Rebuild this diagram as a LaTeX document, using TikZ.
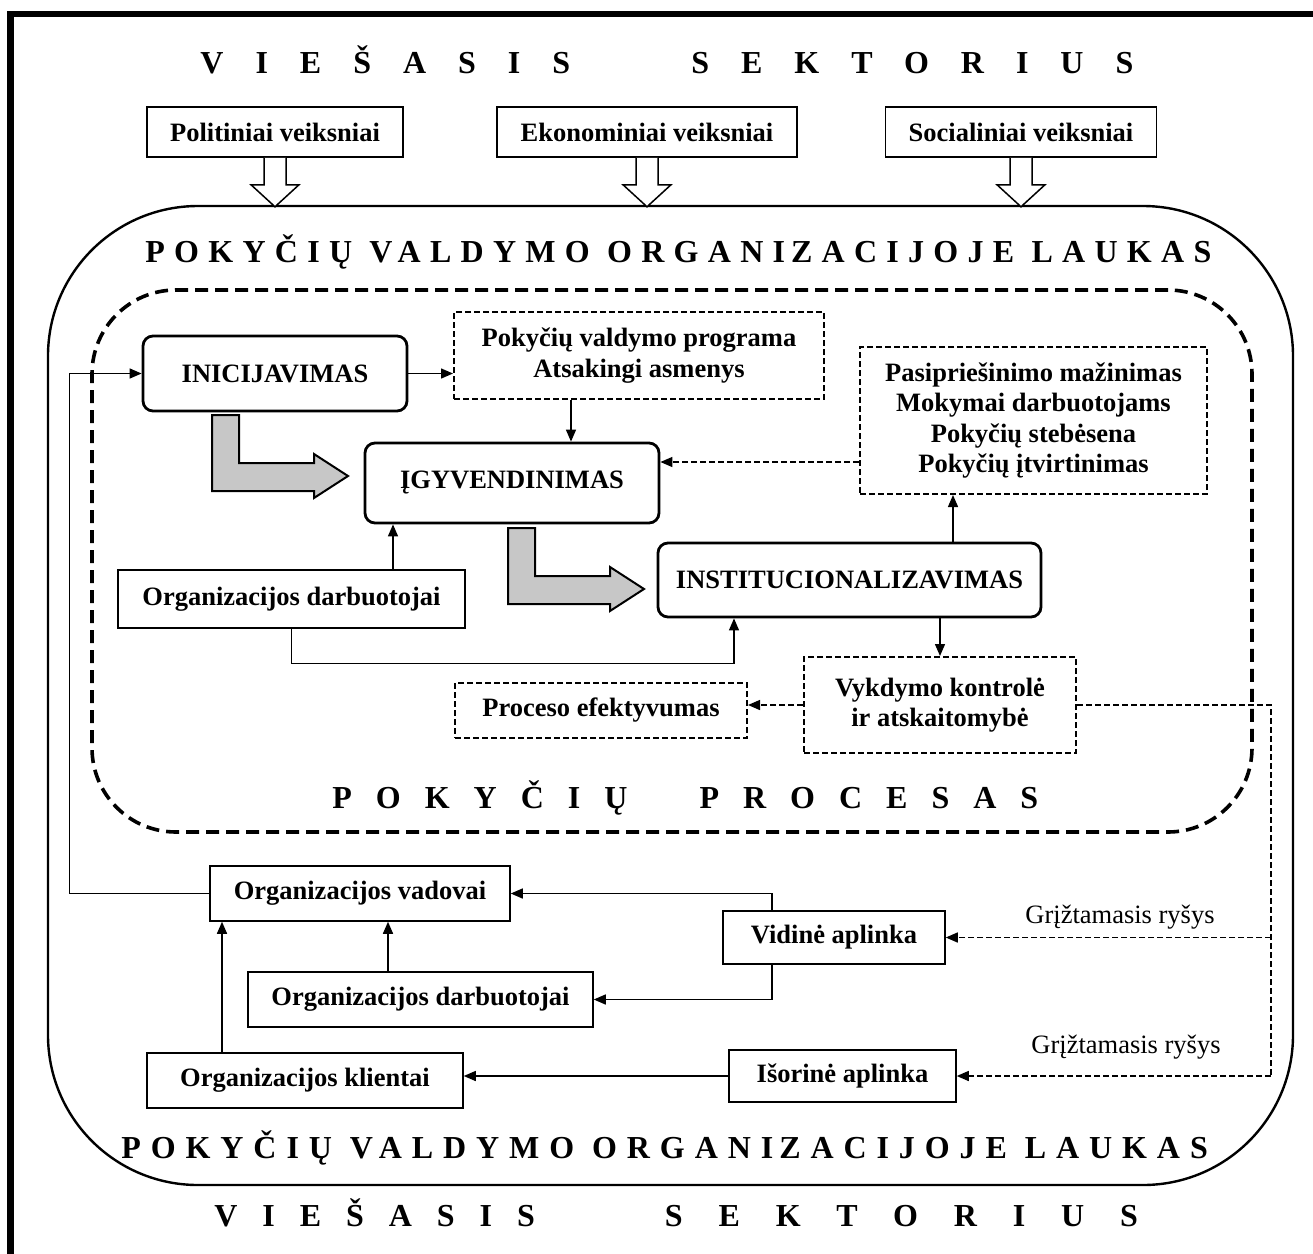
\documentclass[tikz,border=0pt]{standalone}
\usepackage{fontspec}
\setmainfont{Liberation Serif}
\usetikzlibrary{arrows.meta,calc}

\newcommand{\spaced}[2]{{\addfontfeature{LetterSpace=#1}#2}}
\newcommand{\lbend}[1]{\draw[grayarrow] (#1) -- ++(27,0) -- ++(0,48) -- ++(75,0) -- ++(0,-9) -- ++(34,22) -- ++(-34,22) -- ++(0,-7) -- ++(-102,0) -- cycle;}
\newcommand{\hollowdown}[1]{\draw[blockarrow] ($(#1.south)+(-11,0)$) -- ++(0,27) -- ++(-13,0) -- ++(24,22) -- ++(24,-22) -- ++(-13,0) -- ++(0,-27);}

\begin{document}
\begin{tikzpicture}[x=0.5pt, y=-0.5pt,
    boxfont/.style={font=\fontsize{13.25pt}{15.3pt}\selectfont\bfseries},
    plainbox/.style={boxfont, draw, line width=0.75pt, align=center, inner sep=0pt},
    stagebox/.style={plainbox, line width=1.4pt, rounded corners=5pt},
    dashbox/.style={plainbox, line width=1pt, dash pattern=on 3pt off 1.5pt},
    link/.style={line width=0.7pt, -{Triangle[length=6pt,width=5pt]}},
    dashlink/.style={link, dash pattern=on 3pt off 1.5pt},
    fbline/.style={line width=0.7pt, dash pattern=on 3pt off 1.5pt},
    bigtitle/.style={font=\fontsize{16pt}{18pt}\selectfont\bfseries, anchor=base west, inner sep=0pt},
    fblabel/.style={font=\fontsize{13.25pt}{15pt}\selectfont, inner sep=0pt},
    blockarrow/.style={line width=0.75pt, fill=white},
    grayarrow/.style={line width=1pt, fill=black!22}
]
\useasboundingbox (0,0) rectangle (1313,1254);
\draw[line width=3.2pt] (10.5,1290) -- (10.5,14) -- (1340,14);

% public sector and its factors
\node[bigtitle] (sectortop) at (200,73) {\spaced{100}{VIEŠASIS}\hspace{60.5pt}\spaced{100}{SEKTORIUS}};
\node[plainbox, minimum width=128pt, minimum height=25pt] (polit) at (275,132) {Politiniai veiksniai};
\node[plainbox, minimum width=150pt, minimum height=25pt] (econ) at (647,132) {Ekonominiai veiksniai};
\node[plainbox, minimum width=135.5pt, minimum height=25pt] (soc) at (1021,132) {Socialiniai veiksniai};

% field and process frames
\node[draw, line width=1.2pt, rounded corners=75pt, minimum width=622.5pt, minimum height=489.5pt] (field) at (670.5,695.5) {};
\node[draw, line width=1.8pt, dash pattern=on 6.5pt off 3.5pt, rounded corners=42pt, minimum width=580pt, minimum height=271pt] (process) at (672,561) {};
\hollowdown{polit}
\hollowdown{econ}
\hollowdown{soc}
\node[bigtitle] (fieldtop) at (145,262) {\spaced{29}{POKYČIŲ VALDYMO ORGANI\hspace{3pt}ZACIJOJE LAUKAS}};
\node[bigtitle] (proctitle) at (332,808) {\spaced{75}{POKYČIŲ}\hspace{36pt}\spaced{75}{PROCESAS}};
\node[bigtitle] (fieldbot) at (121,1158) {\spaced{31}{POKYČIŲ VALDYMO ORGANI\hspace{3pt}ZACIJOJE LAUKAS}};
\node[bigtitle] (sectorbot) at (214,1226) {\spaced{78}{VIEŠASIS}\hspace{65pt}\spaced{112}{SEKTORIUS}};

% process stages
\node[stagebox, minimum width=132pt, minimum height=37.5pt] (init) at (275,373.5) {INICIJAVIMAS};
\node[dashbox, minimum width=185pt, minimum height=43.5pt] (prog) at (639,355.5) {Pokyčių valdymo programa\\Atsakingi asmenys};
\node[stagebox, minimum width=147pt, minimum height=40pt] (impl) at (512,483) {ĮGYVENDINIMAS};
\node[dashbox, minimum width=173.5pt, minimum height=73.5pt] (measures) at (1033.5,420.5) {Pasipriešinimo mažinimas\\Mokymai darbuotojams\\Pokyčių stebėsena\\Pokyčių įtvirtinimas};
\node[plainbox, minimum width=173.5pt, minimum height=29pt] (staff1) at (291.5,599) {Organizacijos darbuotojai};
\node[stagebox, minimum width=191.5pt, minimum height=37pt] (inst) at (849.5,580) {INSTITUCIONALIZAVIMAS};
\node[dashbox, minimum width=136pt, minimum height=48pt] (control) at (940,705) {Vykdymo kontrolė\\ir atskaitomybė};
\node[dashbox, minimum width=146pt, minimum height=27.5pt] (effic) at (601,710.5) {Proceso efektyvumas};
\lbend{212,415}
\lbend{508,528}

% environment
\node[plainbox, minimum width=150pt, minimum height=27.5pt] (heads) at (360,893.5) {Organizacijos vadovai};
\node[plainbox, minimum width=111pt, minimum height=26.5pt] (inner) at (834,937.5) {Vidinė aplinka};
\node[plainbox, minimum width=172.5pt, minimum height=27.5pt] (staff2) at (420.5,999.5) {Organizacijos darbuotojai};
\node[plainbox, minimum width=158pt, minimum height=27.5pt] (clients) at (305,1080.5) {Organizacijos klientai};
\node[plainbox, minimum width=113.5pt, minimum height=26pt] (outer) at (842.5,1076) {Išorinė aplinka};
\node[fblabel] (fb1) at (1120,917) {Grįžtamasis ryšys};
\node[fblabel] (fb2) at (1126,1047) {Grįžtamasis ryšys};

% connectors
\draw[link] (init.east) -- (init.east -| prog.west);
\coordinate (p1) at ($(prog.south)+(-68,0)$);
\draw[link] (p1) -- (p1 |- impl.north);
\coordinate (p2) at ($(impl.east)+(0,-21)$);
\draw[dashlink] (measures.west |- p2) -- (p2);
\coordinate (p3) at ($(staff1.north)+(101.5,0)$);
\draw[link] (p3) -- (p3 |- impl.south);
\coordinate (p4) at ($(inst.south)+(-115.5,0)$);
\draw[link] (staff1.south) -- ++(0,35) -| (p4);
\coordinate (p5) at ($(inst.north)+(103.5,0)$);
\draw[link] (p5) -- (p5 |- measures.south);
\draw[link] (control.north |- inst.south) -- (control.north);
\draw[dashlink] (control.west) -- (control.west -| effic.east);
\coordinate (fb) at ($(control.east)+(194,0)$);
\draw[fbline] (control.east) -- (fb) -- (fb |- outer.east);
\draw[dashlink] (fb |- inner.east) -- (inner.east);
\draw[dashlink] (fb |- outer.east) -- (outer.east);
\draw[link] (heads.west) -- ++(-140,0) |- (init.west);
\coordinate (p6) at ($(inner.north)+(-62,0)$);
\draw[link] (p6) |- (heads.east);
\coordinate (p7) at ($(inner.south)+(-62,0)$);
\draw[link] (p7) |- (staff2.east);
\coordinate (p8) at ($(staff2.north)+(-32.5,0)$);
\draw[link] (p8) -- (p8 |- heads.south);
\coordinate (p9) at ($(clients.north)+(-83,0)$);
\draw[link] (p9) -- (p9 |- heads.south);
\draw[link] (outer.west) -- (outer.west -| clients.east);
\end{tikzpicture}
\end{document}
